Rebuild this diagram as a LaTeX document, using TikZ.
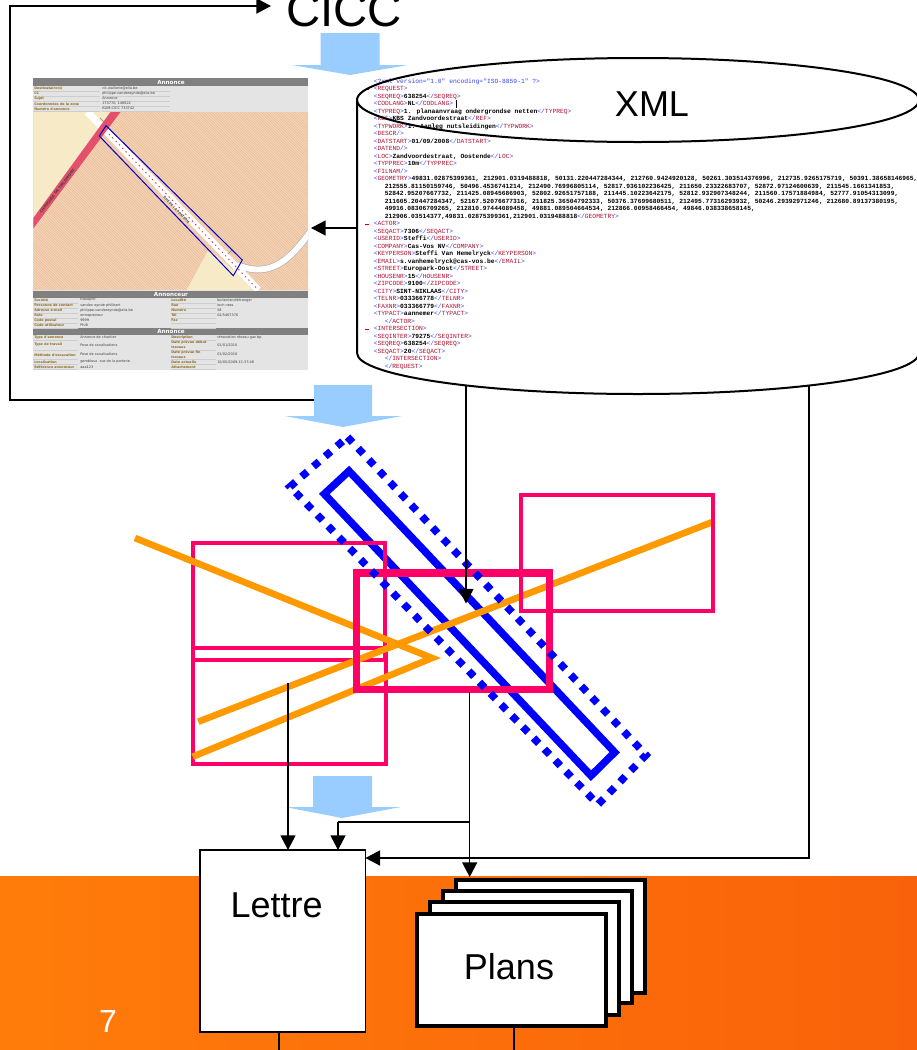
\documentclass[tikz,border=0pt]{standalone}
\usepackage{fontspec}
\usetikzlibrary{arrows.meta}
\setmainfont{Liberation Sans}
\newfontfamily\xmlfont{Liberation Mono}
\newfontfamily\shotfont{DejaVu Sans}
\definecolor{xb}{HTML}{3344EE}
\definecolor{xr}{HTML}{AA1133}
\definecolor{blockblue}{HTML}{99CCFF}
\definecolor{hotpink}{HTML}{FF0066}
\definecolor{orangeline}{HTML}{FF9900}
\definecolor{bandgrey}{HTML}{808080}
\definecolor{rowgrey}{HTML}{E4E4E4}
\definecolor{rowline}{HTML}{CDCDCD}
\definecolor{labbrown}{HTML}{8C6A1E}
\definecolor{peach}{HTML}{F5D8BC}
\definecolor{hatch}{HTML}{ECBD98}
\definecolor{cream}{HTML}{F7EAC6}
\definecolor{roadred}{HTML}{E4506C}
\definecolor{footA}{HTML}{FF7C0A}
\definecolor{footB}{HTML}{F9620A}
\newcommand{\ot}[1]{{\color{xb}<}{\color{xr}#1}{\color{xb}>}}
\newcommand{\ct}[1]{{\color{xb}</}{\color{xr}#1}{\color{xb}>}}
\newcommand{\st}[1]{{\color{xb}<}{\color{xr}#1}{\color{xb} />}}
\newcommand{\vl}[1]{\textbf{#1}}
\newcounter{shotcnt}
\newcommand{\lab}[3]{\stepcounter{shotcnt}\node[shotlab] (l\theshotcnt) at (#1,#2) {#3};}
\newcommand{\val}[3]{\stepcounter{shotcnt}\node[shotval] (v\theshotcnt) at (#1,#2) {#3};}
\tikzset{
  blockarrow/.style={fill=blockblue,draw=none},
  conn/.style={draw=black,line width=1.1pt,-{Triangle[length=11pt,width=11.25pt]}},
  plainconn/.style={draw=black,line width=1.1pt},
  thinpink/.style={draw=hotpink,line width=2.8pt},
  orangestroke/.style={draw=orangeline,line width=5pt,miter limit=10},
  shotlab/.style={anchor=west,inner sep=0pt,text=labbrown,font=\shotfont\bfseries\fontsize{2.5pt}{3pt}\selectfont},
  shotval/.style={anchor=west,inner sep=0pt,text=black!75,font=\shotfont\fontsize{2.6pt}{3pt}\selectfont},
  shothead/.style={inner sep=0pt,text=white,font=\shotfont\bfseries\fontsize{4.2pt}{5pt}\selectfont},
  boxtext/.style={inner sep=0pt,font=\fontsize{27pt}{30pt}\selectfont},
  planbox/.style={draw=black,fill=white,line width=3pt,minimum width=141.75pt,minimum height=84.5pt,inner sep=0pt,outer sep=0pt},
  rowrule/.style={draw=rowline,line width=.3pt},
}
\begin{document}
\begin{tikzpicture}[x=.75pt,y=-.75pt]
\useasboundingbox (0,0) rectangle (917,1050);
\clip (0,0) rectangle (917,1050);
% orange footer
\fill[left color=footA,right color=footB] (0,876) rectangle (917,1050);
\node[inner sep=0pt,text=white,font=\fontsize{24pt}{28pt}\selectfont,anchor=base] (pagenum) at (108,1032) {7};

% ---- screenshot ----
\fill[rowgrey] (33,78) rectangle (308,370);
\fill[bandgrey] (33,78) rectangle (308,86);
\fill[bandgrey] (33,290.5) rectangle (308,297.5);
\fill[bandgrey] (33,328) rectangle (308,335);
\node[shothead] (h1) at (171,82.2) {Annonce};
\node[shothead] (h2) at (171,294.2) {Annonceur};
\node[shothead] (h3) at (171,331.7) {Annonce};
\foreach \yy in {91.2,96.2,101.2,106.2,111.2} \draw[rowrule] (33,\yy) -- (100,\yy) (102,\yy) -- (170,\yy);
\foreach \yy in {302.7,307.7,312.7,317.7,322.7,327.7} \draw[rowrule] (33,\yy) -- (78,\yy) (171,\yy) -- (216,\yy);
\foreach \yy in {340,350,359.5,364.5,369.5} \draw[rowrule] (33,\yy) -- (78,\yy) (171,\yy) -- (216,\yy);
\lab{34}{88.7}{Destinataire(s)}\val{102}{88.7}{cic.wallonie@elia.be}
\lab{34}{93.7}{CC}\val{102}{93.7}{philippe.vandereynde@elia.be}
\lab{34}{98.7}{Sujet}\val{102}{98.7}{Annonce}
\lab{34}{103.7}{Coordonnées de la zone}\val{102}{103.7}{173770, 148822}
\lab{34}{108.7}{Numéro d'annonce}\val{102}{108.7}{KLIM-CICC 733742}
% map
\begin{scope}
\clip (33.3,112) rectangle (308,290);
\fill[peach] (33,112) rectangle (308,290);
\foreach \i in {0,2.6,...,460} \draw[hatch,line width=.5pt] (33+\i,290) -- (33+\i-178,112);
\fill[cream] (33.3,111.7) -- (112,111.7) -- (33.3,222) -- cycle;
\fill[cream] (208.3,250) -- (186.7,290) -- (256,290) -- (217,256) -- cycle;
\draw[draw=black!30,line width=5.4pt] (237.3,265) .. controls (266.7,277) and (286.7,265) .. (310,232);
\draw[draw=white,line width=4.4pt] (237.3,265) .. controls (266.7,277) and (286.7,265) .. (310,232);
\draw[draw=white,line width=5.4pt] (87.3,111.7) -- (258.3,290);
\draw[draw=roadred!85!black,line width=.7pt,dash pattern=on 1pt off 2.6pt] (109,134) -- (258.3,290);
\fill[roadred] (33.3,218) -- (110.7,111.7) -- (120.7,111.7) -- (33.3,228.5) -- cycle;
\node[inner sep=0pt,rotate=52,text=black!75,font=\shotfont\bfseries\fontsize{2.8pt}{3pt}\selectfont] (roadname1) at (57.3,191) {CHAUSSEE DE TIRLEMONT};
\node[inner sep=0pt,rotate=-46,text=black!75,font=\shotfont\bfseries\fontsize{2.3pt}{3pt}\selectfont] (roadname2) at (176.7,210) {RUE DE LA PORTERIE};
\draw[draw=black!50,line width=.5pt] (100,118) -- (104,122) (228,254) -- (232,250);
\draw[draw=blue!80!black,line width=.75pt] (106,125.7) -- (242.3,260) -- (233.3,275.7) -- (99.3,136) -- cycle;
\end{scope}
\lab{34}{300}{Société}\val{80}{300}{travophil}
\lab{34}{305.2}{Personne de contact}\val{80}{305.2}{vanden eynde philibert}
\lab{34}{310.2}{Adresse e-mail}\val{80}{310.2}{philippe.vandereynde@elia.be}
\lab{34}{315.2}{Role}\val{80}{315.2}{entrepreneur}
\lab{34}{320.2}{Code postal}\val{80}{320.2}{9999}
\lab{34}{325.2}{Code utilisateur}\val{80}{325.2}{PhiB}
\lab{171}{300}{Localité}\val{217}{300}{buitenland/étranger}
\lab{171}{305.2}{Rue}\val{217}{305.2}{loch ness}
\lab{171}{310.2}{Numéro}\val{217}{310.2}{58}
\lab{171}{315.2}{Tél}\val{217}{315.2}{02/5467376}
\lab{171}{320.2}{Fax}
\lab{34}{337.2}{Type d'annonce}\val{80}{337.2}{Annonce de chantier}
\lab{34}{345}{Type de travail}\val{80}{345}{Pose de canalisations}
\lab{34}{354.7}{Méthode d'excavation}\val{80}{354.7}{Pose de canalisations}
\lab{34}{362}{Localisation}\val{80}{362}{gembloux -rue de la porterie}
\lab{34}{367}{Référence annonceur}\val{80}{367}{aaa123}
\lab{171}{337.2}{Description}\val{217}{337.2}{rénovation réseau gaz bp}
\lab{171}{342.5}{Date prévue début}\lab{171}{347}{travaux}\val{217}{345}{01/01/2010}
\lab{171}{352.3}{Date prévue fin}\lab{171}{357}{travaux}\val{217}{354.7}{01/02/2010}
\lab{171}{362}{Date actuelle}\val{217}{362}{10/05/2009-12:37:48}
\lab{171}{367}{Attachement}

% ---- block arrows ----
\fill[blockarrow] (320.7,33) -- (379.7,33) -- (379.7,65) -- (408,65) -- (350,75) -- (292,65) -- (320.7,65) -- cycle;

% ---- CICC ----
\node[inner sep=0pt,anchor=base west,font=\fontsize{35.5pt}{36pt}\selectfont] (cicc) at (286,26) {CICC};

% ---- XML cylinder ----
\fill[white] (357,100) -- (357,353) arc[start angle=180,end angle=0,x radius=281,y radius=41] -- (919,100) -- cycle;
\draw[draw=black,line width=1.5pt] (357,100) -- (357,353) arc[start angle=180,end angle=0,x radius=281,y radius=41] -- (919,100);
\node[inner sep=0pt,anchor=north west,align=left,font=\xmlfont\fontsize{4.72pt}{5.625pt}\selectfont] (xmltext) at (373.5,78.6) {%
{\color{xb}<?xml version="1.0" encoding="ISO-8859-1" ?>}\\
\ot{REQUEST}\\
\ot{SEQREQ}\vl{638254}\ct{SEQREQ}\\
\ot{CODLANG}\vl{NL}\ct{CODLANG}\\
\ot{TYPREQ}\vl{1. planaanvraag ondergrondse netten}\ct{TYPREQ}\\
\ot{REF}\vl{KBS Zandvoordestraat}\ct{REF}\\
\ot{TYPWORK}\vl{1. Aanleg nutsleidingen}\ct{TYPWORK}\\
\st{DESCR}\\
\ot{DATSTART}\vl{01/09/2008}\ct{DATSTART}\\
\st{DATEND}\\
\ot{LOC}\vl{Zandvoordestraat, Oostende}\ct{LOC}\\
\ot{TYPPREC}\vl{10m}\ct{TYPPREC}\\
\st{FILNAM}\\
\ot{GEOMETRY}\vl{49831.02875399361, 212901.0319488818, 50131.220447284344, 212760.9424920128, 50261.303514376996, 212735.9265175719, 50391.38658146965,}\\
\hspace*{8.25pt}\vl{212555.81150159746, 50496.4536741214, 212490.76996805114, 52817.936102236425, 211650.23322683707, 52872.97124600639, 211545.1661341853,}\\
\hspace*{8.25pt}\vl{52842.95207667732, 211425.08945686903, 52802.92651757188, 211445.10223642175, 52812.932907348244, 211560.17571884984, 52777.91054313099,}\\
\hspace*{8.25pt}\vl{211605.20447284347, 52167.52076677316, 211825.36504792333, 50376.37699680511, 212495.77316293932, 50246.29392971246, 212680.89137380195,}\\
\hspace*{8.25pt}\vl{49916.08306709265, 212810.97444089458, 49881.089504664534, 212866.00958466454, 49846.038338658145,}\\
\hspace*{8.25pt}\vl{212906.03514377,49831.02875399361,212901.0319488818}\ct{GEOMETRY}\\
\ot{ACTOR}\\
\ot{SEQACT}\vl{7306}\ct{SEQACT}\\
\ot{USERID}\vl{Steffi}\ct{USERID}\\
\ot{COMPANY}\vl{Cas-Vos NV}\ct{COMPANY}\\
\ot{KEYPERSON}\vl{Steffi Van Hemelryck}\ct{KEYPERSON}\\
\ot{EMAIL}\vl{s.vanhemelryck@cas-vos.be}\ct{EMAIL}\\
\ot{STREET}\vl{Europark-Oost}\ct{STREET}\\
\ot{HOUSENR}\vl{15}\ct{HOUSENR}\\
\ot{ZIPCODE}\vl{9100}\ct{ZIPCODE}\\
\ot{CITY}\vl{SINT-NIKLAAS}\ct{CITY}\\
\ot{TELNR}\vl{033366778}\ct{TELNR}\\
\ot{FAXNR}\vl{033366779}\ct{FAXNR}\\
\ot{TYPACT}\vl{aannemer}\ct{TYPACT}\\
\hspace*{8.25pt}\ct{ACTOR}\\
\ot{INTERSECTION}\\
\ot{SEQINTER}\vl{79275}\ct{SEQINTER}\\
\ot{SEQREQ}\vl{638254}\ct{SEQREQ}\\
\ot{SEQACT}\vl{20}\ct{SEQACT}\\
\hspace*{8.25pt}\ct{INTERSECTION}\\
\hspace*{8.25pt}\ct{REQUEST}};
\foreach \yy in {89.2,224.2,329.2} \draw[draw=red!85!black,line width=.6pt] (365,\yy) -- (369,\yy);
\draw[draw=black,line width=.6pt] (456.7,100) -- (456.7,108);
\draw[draw=black,line width=1.5pt] (638,100) ellipse [x radius=281,y radius=42];
\node[inner sep=0pt,font=\fontsize{27pt}{30pt}\selectfont] (xmllabel) at (652,104) {XML};

% ---- named connector ends ----
\coordinate (framestart) at (316,400);
\coordinate (framecorner) at (10,6);
\coordinate (ciccin) at (271,6);
\coordinate (xmlleft) at (357,228);
\coordinate (shotright) at (311,228);
\coordinate (xmlA) at (466,386);
\coordinate (midtip) at (466,603.5);
\coordinate (xmlB) at (809,385.5);
\coordinate (pinkA) at (288,683);
\coordinate (pinkB) at (469.7,692);
\coordinate (branch) at (338,822);

% ---- frame and upper arrows ----
\draw[draw=black,line width=1.5pt,-{Triangle[length=11pt,width=11.25pt]}] (framestart) -| (framecorner) -- (ciccin);
\draw[conn] (xmlleft) -- (shotright);
\fill[blockarrow] (314,385) -- (372,385) -- (372,416) -- (402,416) -- (343,427) -- (285,416) -- (314,416) -- cycle;

% ---- plan sketch ----
\draw[draw=blue,line width=5.6pt] (349,471) -- (614.7,752.3) -- (591,775.7) -- (324.3,494) -- cycle;
\draw[thinpink] (192.7,543) rectangle (385,660);
\draw[thinpink] (192.7,647.7) rectangle (385.7,764);
\draw[orangestroke] (135,538) -- (432,658) -- (192.7,756.7);
\draw[orangestroke] (198.3,721.7) -- (711.7,522.3);
\draw[draw=hotpink,line width=5.5pt] (356.7,573) rectangle (549.5,689.3);
\draw[thinpink] (520.7,495) rectangle (712.7,611);
\draw[draw=blue,line width=5.6pt,dash pattern=on 5.6pt off 6.05pt] (347.5,437) -- (646,755) -- (598,804.5) -- (290,486.7) -- cycle;

% ---- Lettre and Plans ----
\fill[blockarrow] (313,776) -- (372,776) -- (372,807) -- (401,807) -- (342,818) -- (285,807) -- (313,807) -- cycle;
\node[draw=black,fill=white,line width=1.2pt,minimum width=124.1pt,minimum height=136.5pt,inner sep=0pt,outer sep=0pt] (lettre) at (282.7,941) {};
\node[boxtext] (lettretext) at (276.6,905) {Lettre};
\node[planbox] (planD) at (550,936.5) {};
\node[planbox] (planC) at (537,947) {};
\node[planbox] (planB) at (524,958.5) {};
\node[planbox] (planA) at (511.5,970) {};
\node[boxtext] (planstext) at (509,967) {Plans};
\coordinate (lettrefoot) at (279,1050);
\coordinate (planfoot) at (514,1050);
\draw[plainconn] (lettrefoot |- lettre.south) -- (lettrefoot);
\draw[plainconn] (planfoot |- planA.south) -- (planfoot);

% ---- lower connectors ----
\draw[conn] (xmlA) -- (midtip);
\draw[conn] (pinkA) -- (pinkA |- lettre.north);
\draw[plainconn] (pinkB) -- (pinkB |- branch) -- (branch);
\draw[conn] (branch) -- (branch |- lettre.north);
\draw[conn,shorten >=2.4pt] (pinkB) -- (pinkB |- planD.north);
\draw[draw=black,line width=1.3pt,-{Triangle[length=11pt,width=11.25pt]}] (xmlB) |- (lettre.east |- 0,858);
\end{tikzpicture}
\end{document}
